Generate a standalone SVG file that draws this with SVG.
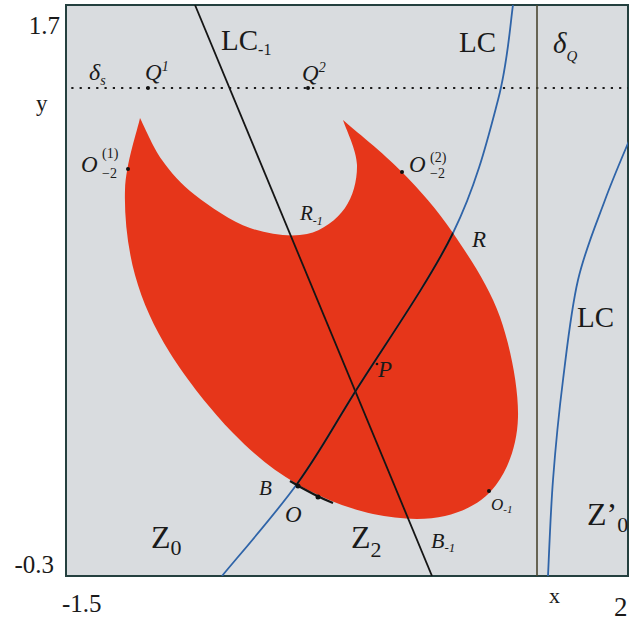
<svg xmlns="http://www.w3.org/2000/svg" width="631" height="621" viewBox="0 0 631 621">
<style>
.t{font-family:"Liberation Serif","DejaVu Serif",serif;fill:#1a1a1a}
.i{font-style:italic}
.ax{font-size:25px}
.z{font-size:32px}
.lc{font-size:29px}
.sm{font-size:14px}
.blue{fill:none;stroke:#2f64a8;stroke-width:1.8}
.blk{fill:none;stroke:#151515;stroke-width:1.8}
</style>
<defs>
<clipPath id="plot"><rect x="66" y="5" width="562" height="571"/></clipPath>
<clipPath id="blobclip"><path id="blobpath" d="M140,118 C137.5,130 125.8,163.8 125,190 C124.2,216.2 127.5,247.8 135,275 C142.5,302.2 153.7,326.7 170,353 C186.3,379.3 211.8,411.2 233,433 C254.2,454.8 273.7,470.5 297,484 C320.3,497.5 348.3,508.7 373,514 C397.7,519.3 424.5,520.8 445,516 C465.5,511.2 483.8,501.5 496,485 C508.2,468.5 517.3,445 518,417 C518.7,389 510.8,347.7 500,317 C489.2,286.3 469.3,257.2 453,233 C436.7,208.8 420.3,190.8 402,172 C383.7,153.2 352.8,128.7 343,120 C345.3,127.5 356.7,150.3 357,165 C357.3,179.7 353.3,196.5 345,208 C336.7,219.5 322.8,230.7 307,234 C291.2,237.3 268.7,234.5 250,228 C231.3,221.5 209.7,206.3 195,195 C180.3,183.7 171.2,172.8 162,160 C152.8,147.2 143.7,125 140,118 Z"/></clipPath>
</defs>
<rect width="631" height="621" fill="#ffffff"/>
<g id="frame">
<rect x="66" y="5" width="562" height="571" fill="#d9dcdf" stroke="#24403f" stroke-width="2"/>
</g>
<g id="basin">
<path d="M140,118 C137.5,130 125.8,163.8 125,190 C124.2,216.2 127.5,247.8 135,275 C142.5,302.2 153.7,326.7 170,353 C186.3,379.3 211.8,411.2 233,433 C254.2,454.8 273.7,470.5 297,484 C320.3,497.5 348.3,508.7 373,514 C397.7,519.3 424.5,520.8 445,516 C465.5,511.2 483.8,501.5 496,485 C508.2,468.5 517.3,445 518,417 C518.7,389 510.8,347.7 500,317 C489.2,286.3 469.3,257.2 453,233 C436.7,208.8 420.3,190.8 402,172 C383.7,153.2 352.8,128.7 343,120 C345.3,127.5 356.7,150.3 357,165 C357.3,179.7 353.3,196.5 345,208 C336.7,219.5 322.8,230.7 307,234 C291.2,237.3 268.7,234.5 250,228 C231.3,221.5 209.7,206.3 195,195 C180.3,183.7 171.2,172.8 162,160 C152.8,147.2 143.7,125 140,118 Z" fill="#e6361a"/>
</g>
<g id="connectors" clip-path="url(#plot)">
<line x1="63" y1="88" x2="631" y2="88" stroke="#1a1a1a" stroke-width="2.2" stroke-dasharray="2.2 6.1"/>
<line x1="537" y1="5" x2="537" y2="576" stroke="#4a4630" stroke-width="1.6"/>
<line id="lc-1" x1="195" y1="5" x2="432" y2="576" class="blk"/>
<path id="lc" class="blue" d="M513,5 C510.5,20.8 508,62 498,100 C488,138 476.8,184.3 453,233 C429.2,281.7 381,350.2 355,392 C329,433.8 319.2,453.3 297,484 C274.8,514.7 234.5,560.7 222,576"/>
<path class="blk" clip-path="url(#blobclip)" d="M513,5 C510.5,20.8 508,62 498,100 C488,138 476.8,184.3 453,233 C429.2,281.7 381,350.2 355,392 C329,433.8 319.2,453.3 297,484 C274.8,514.7 234.5,560.7 222,576"/>
<path id="lc-right" class="blue" d="M631,136 C626.7,146.7 613.8,176 605,200 C596.2,224 585,250 578,280 C571,310 567.2,346.7 563,380 C558.8,413.3 555.5,447.3 553,480 C550.5,512.7 548.8,560 548,576"/>
<path d="M290,481 C305,490 318,497 333,503" fill="none" stroke="#151515" stroke-width="2.2"/>
</g>
<g id="points" fill="#111">
<circle cx="148" cy="88" r="2"/>
<circle cx="308" cy="88" r="2"/>
<circle cx="128" cy="169" r="2"/>
<circle cx="402" cy="172" r="2"/>
<circle cx="298" cy="486" r="2.5"/>
<circle cx="318" cy="497" r="2.5"/>
<circle cx="489" cy="491" r="2"/>
<circle cx="377" cy="364" r="1.3"/>
</g>
<g id="labels">
<text class="t ax" x="60" y="34" text-anchor="end">1.7</text>
<text class="t" x="36" y="111" font-size="23">y</text>
<text class="t ax" x="54" y="573" text-anchor="end">-0.3</text>
<text class="t ax" x="62" y="612">-1.5</text>
<text class="t" x="549" y="603" font-size="22">x</text>
<text class="t" x="614" y="616" font-size="27">2</text>
<text class="t i" x="89" y="80" font-size="24">δ<tspan class="sm" dy="5">s</tspan></text>
<text class="t i" x="145" y="80" font-size="23">Q<tspan class="sm" dy="-9">1</tspan></text>
<text class="t i" x="302" y="81" font-size="23">Q<tspan class="sm" dy="-9">2</tspan></text>
<text class="t lc" x="221" y="50">LC<tspan font-size="16" dy="5">-1</tspan></text>
<text class="t lc" x="459" y="52">LC</text>
<text class="t i" x="553" y="53" font-size="29">δ<tspan font-size="15" dy="8">Q</tspan></text>
<text class="t i" x="81" y="172" font-size="23">O</text>
<text class="t sm" x="102" y="158">(1)</text>
<text class="t sm" x="102" y="178">−2</text>
<text class="t i" x="409" y="172" font-size="23">O</text>
<text class="t sm" x="430" y="162">(2)</text>
<text class="t sm" x="430" y="178">−2</text>
<text class="t i" x="300" y="220" font-size="21">R<tspan font-size="12" dy="5">-1</tspan></text>
<text class="t i" x="472" y="247" font-size="23">R</text>
<text class="t i" x="378" y="377" font-size="23">P</text>
<text class="t lc" x="577" y="327">LC</text>
<text class="t i" x="259" y="495" font-size="21">B</text>
<text class="t i" x="285" y="522" font-size="23">O</text>
<text class="t i" x="491" y="510" font-size="17">O<tspan font-size="11" dy="3">-1</tspan></text>
<text class="t i" x="431" y="548" font-size="22">B<tspan font-size="13" dy="4">-1</tspan></text>
<text class="t z" x="151" y="548">Z<tspan font-size="22" dy="7">0</tspan></text>
<text class="t z" x="351" y="548">Z<tspan font-size="22" dy="9">2</tspan></text>
<text class="t z" x="587" y="525">Z’<tspan font-size="22" dy="7">0</tspan></text>
</g>
</svg>
